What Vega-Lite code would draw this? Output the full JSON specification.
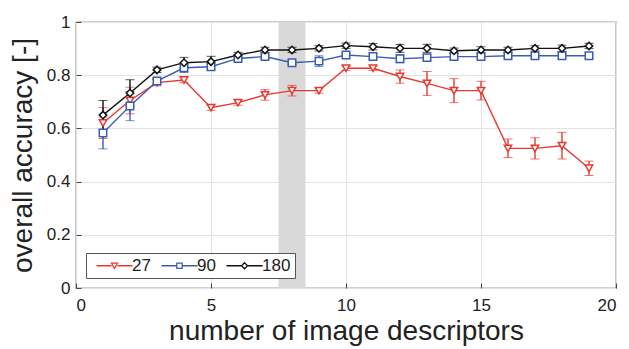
{
  "$schema": "https://vega.github.io/schema/vega-lite/v6.json",
  "width": 540,
  "height": 266,
  "autosize": {"type": "none"},
  "padding": {"left": 76, "top": 22, "right": 13, "bottom": 61},
  "background": "white",
  "config": {
    "font": "Liberation Sans",
    "view": {"stroke": "#444444", "strokeWidth": 1.2},
    "axis": {
      "labelFont": "Liberation Sans",
      "titleFont": "Liberation Sans",
      "labelFontSize": 17,
      "titleFontSize": 28,
      "titleFontWeight": "normal",
      "labelColor": "#222222",
      "titleColor": "#222222",
      "gridColor": "#e2e2e2",
      "gridWidth": 1,
      "domain": false,
      "tickColor": "#444444",
      "tickSize": -5
    }
  },
  "datasets": {
    "acc": [
      {"n": 1, "s": "27", "acc": 0.62, "lo": 0.562, "hi": 0.678},
      {"n": 2, "s": "27", "acc": 0.705, "lo": 0.655, "hi": 0.755},
      {"n": 3, "s": "27", "acc": 0.772, "lo": 0.76, "hi": 0.784},
      {"n": 4, "s": "27", "acc": 0.782, "lo": 0.772, "hi": 0.792},
      {"n": 5, "s": "27", "acc": 0.678, "lo": 0.668, "hi": 0.688},
      {"n": 6, "s": "27", "acc": 0.697, "lo": 0.687, "hi": 0.707},
      {"n": 7, "s": "27", "acc": 0.726, "lo": 0.706, "hi": 0.746},
      {"n": 8, "s": "27", "acc": 0.742, "lo": 0.722, "hi": 0.762},
      {"n": 9, "s": "27", "acc": 0.742, "lo": 0.732, "hi": 0.752},
      {"n": 10, "s": "27", "acc": 0.826, "lo": 0.818, "hi": 0.834},
      {"n": 11, "s": "27", "acc": 0.826, "lo": 0.818, "hi": 0.834},
      {"n": 12, "s": "27", "acc": 0.795, "lo": 0.77, "hi": 0.82},
      {"n": 13, "s": "27", "acc": 0.769, "lo": 0.724, "hi": 0.814},
      {"n": 14, "s": "27", "acc": 0.742, "lo": 0.697, "hi": 0.787},
      {"n": 15, "s": "27", "acc": 0.742, "lo": 0.707, "hi": 0.777},
      {"n": 16, "s": "27", "acc": 0.525, "lo": 0.49, "hi": 0.56},
      {"n": 17, "s": "27", "acc": 0.525, "lo": 0.485, "hi": 0.565},
      {"n": 18, "s": "27", "acc": 0.535, "lo": 0.485, "hi": 0.585},
      {"n": 19, "s": "27", "acc": 0.45, "lo": 0.423, "hi": 0.477},
      {"n": 1, "s": "90", "acc": 0.583, "lo": 0.523, "hi": 0.643},
      {"n": 2, "s": "90", "acc": 0.684, "lo": 0.629, "hi": 0.739},
      {"n": 3, "s": "90", "acc": 0.778, "lo": 0.766, "hi": 0.79},
      {"n": 4, "s": "90", "acc": 0.828, "lo": 0.81, "hi": 0.846},
      {"n": 5, "s": "90", "acc": 0.832, "lo": 0.82, "hi": 0.844},
      {"n": 6, "s": "90", "acc": 0.863, "lo": 0.853, "hi": 0.873},
      {"n": 7, "s": "90", "acc": 0.87, "lo": 0.862, "hi": 0.878},
      {"n": 8, "s": "90", "acc": 0.847, "lo": 0.839, "hi": 0.855},
      {"n": 9, "s": "90", "acc": 0.853, "lo": 0.833, "hi": 0.873},
      {"n": 10, "s": "90", "acc": 0.876, "lo": 0.868, "hi": 0.884},
      {"n": 11, "s": "90", "acc": 0.87, "lo": 0.86, "hi": 0.88},
      {"n": 12, "s": "90", "acc": 0.862, "lo": 0.847, "hi": 0.877},
      {"n": 13, "s": "90", "acc": 0.866, "lo": 0.854, "hi": 0.878},
      {"n": 14, "s": "90", "acc": 0.87, "lo": 0.858, "hi": 0.882},
      {"n": 15, "s": "90", "acc": 0.87, "lo": 0.862, "hi": 0.878},
      {"n": 16, "s": "90", "acc": 0.873, "lo": 0.865, "hi": 0.881},
      {"n": 17, "s": "90", "acc": 0.873, "lo": 0.865, "hi": 0.881},
      {"n": 18, "s": "90", "acc": 0.873, "lo": 0.865, "hi": 0.881},
      {"n": 19, "s": "90", "acc": 0.873, "lo": 0.863, "hi": 0.883},
      {"n": 1, "s": "180", "acc": 0.65, "lo": 0.595, "hi": 0.705},
      {"n": 2, "s": "180", "acc": 0.733, "lo": 0.683, "hi": 0.783},
      {"n": 3, "s": "180", "acc": 0.82, "lo": 0.81, "hi": 0.83},
      {"n": 4, "s": "180", "acc": 0.847, "lo": 0.827, "hi": 0.867},
      {"n": 5, "s": "180", "acc": 0.851, "lo": 0.831, "hi": 0.871},
      {"n": 6, "s": "180", "acc": 0.876, "lo": 0.866, "hi": 0.886},
      {"n": 7, "s": "180", "acc": 0.895, "lo": 0.885, "hi": 0.905},
      {"n": 8, "s": "180", "acc": 0.895, "lo": 0.885, "hi": 0.905},
      {"n": 9, "s": "180", "acc": 0.901, "lo": 0.891, "hi": 0.911},
      {"n": 10, "s": "180", "acc": 0.911, "lo": 0.901, "hi": 0.921},
      {"n": 11, "s": "180", "acc": 0.907, "lo": 0.895, "hi": 0.919},
      {"n": 12, "s": "180", "acc": 0.901, "lo": 0.886, "hi": 0.916},
      {"n": 13, "s": "180", "acc": 0.901, "lo": 0.886, "hi": 0.916},
      {"n": 14, "s": "180", "acc": 0.892, "lo": 0.882, "hi": 0.902},
      {"n": 15, "s": "180", "acc": 0.895, "lo": 0.883, "hi": 0.907},
      {"n": 16, "s": "180", "acc": 0.895, "lo": 0.885, "hi": 0.905},
      {"n": 17, "s": "180", "acc": 0.901, "lo": 0.891, "hi": 0.911},
      {"n": 18, "s": "180", "acc": 0.901, "lo": 0.889, "hi": 0.913},
      {"n": 19, "s": "180", "acc": 0.91, "lo": 0.9, "hi": 0.92}
    ],
    "band": [{"x1": 7.5, "x2": 8.5}]
  },
  "resolve": {"scale": {"color": "independent", "shape": "independent"}},
  "layer": [
    {
      "data": {"name": "band"},
      "mark": {"type": "rect", "color": "#d9d9d9", "opacity": 1},
      "encoding": {
        "x": {
          "field": "x1", "type": "quantitative",
          "scale": {"domain": [0, 20], "nice": false},
          "axis": {"values": [0, 5, 10, 15, 20], "title": "number of image descriptors", "titlePadding": 4, "labelPadding": 14}
        },
        "x2": {"field": "x2"}
      }
    },
    {
      "data": {"name": "acc"},
      "mark": {"type": "errorbar", "ticks": {"size": 9, "strokeWidth": 1.4}, "rule": {"strokeWidth": 1.4}},
      "encoding": {
        "x": {"field": "n", "type": "quantitative", "scale": {"domain": [0, 20], "nice": false}},
        "y": {
          "field": "lo", "type": "quantitative",
          "scale": {"domain": [0, 1], "nice": false},
          "axis": {"values": [0, 0.2, 0.4, 0.6, 0.8, 1], "format": ".1~f", "title": "overall accuracy [-]", "titlePadding": 9, "labelPadding": 11}
        },
        "y2": {"field": "hi"},
        "color": {"field": "s", "type": "nominal", "scale": {"domain": ["27", "90", "180"], "range": ["#e8382f", "#3a5cb2", "#111111"]}, "legend": null}
      }
    },
    {
      "data": {"name": "acc"},
      "mark": {"type": "line", "strokeWidth": 1.4},
      "encoding": {
        "x": {"field": "n", "type": "quantitative"},
        "y": {"field": "acc", "type": "quantitative"},
        "color": {"field": "s", "type": "nominal", "scale": {"domain": ["27", "90", "180"], "range": ["#e8382f", "#3a5cb2", "#111111"]}, "legend": null}
      }
    },
    {
      "data": {"name": "acc"},
      "mark": {"type": "point", "filled": false, "fill": "white", "fillOpacity": 1, "opacity": 1, "strokeWidth": 1.5, "size": 55},
      "encoding": {
        "x": {"field": "n", "type": "quantitative"},
        "y": {"field": "acc", "type": "quantitative"},
        "color": {"field": "s", "type": "nominal", "scale": {"domain": ["27", "90", "180"], "range": ["#e8382f", "#3a5cb2", "#111111"]}, "legend": null},
        "shape": {"field": "s", "type": "nominal", "scale": {"domain": ["27", "90", "180"], "range": ["triangle-down", "square", "diamond"]}, "legend": null}
      }
    },
    {
      "data": {"name": "acc"},
      "mark": {"type": "point", "filled": false, "opacity": 0, "size": 36},
      "encoding": {
        "x": {"field": "n", "type": "quantitative"},
        "y": {"field": "acc", "type": "quantitative"},
        "color": {
          "field": "s", "type": "nominal",
          "scale": {"domain": ["27", "90", "180"], "range": ["#e8382f", "#3a5cb2", "#111111"]},
          "legend": {
            "orient": "bottom-left", "offset": 10, "direction": "horizontal", "title": null,
            "strokeColor": "#555555", "fillColor": "white", "padding": 4,
            "labelFontSize": 17, "labelFont": "Liberation Sans", "labelColor": "#222222",
            "symbolOpacity": 1, "symbolStrokeWidth": 1.3, "symbolSize": 36,
            "symbolOffset": 16, "labelOffset": 9, "columnPadding": 4,
            "encode": {"symbols": {"update": {"fill": {"value": "white"}, "fillOpacity": {"value": 1}}}}
          }
        },
        "shape": {
          "field": "s", "type": "nominal",
          "scale": {"domain": ["27", "90", "180"], "range": [
            "M-6,0H-1M1,0H6M-1,-0.85L1,-0.85L0,0.9Z",
            "M-6,0H-0.9M0.9,0H6M-0.9,-0.9H0.9V0.9H-0.9Z",
            "M-6,0H-1M1,0H6M0,-1L1,0L0,1L-1,0Z"
          ]},
          "legend": {
            "orient": "bottom-left", "offset": 10, "direction": "horizontal", "title": null
          }
        }
      }
    }
  ]
}
